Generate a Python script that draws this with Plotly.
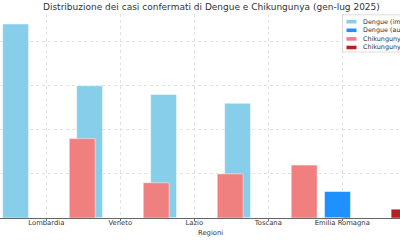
import plotly.graph_objects as go

# ---- data ----
regions = ["Lombardia", "Veneto", "Lazio", "Toscana", "Emilia Romagna"]
dengue_imp = [22, 15, 14, 13, 0]
dengue_auto = [0, 0, 0, 0, 3]
chik_imp = [9, 4, 5, 6, 0]
chik_auto = [0, 0, 0, 0, 1]
series_names = ["Dengue (importati)", "Dengue (autoctoni)",
                "Chikungunya (importati)", "Chikungunya (autoctoni)"]
colors = ["#87CEEB", "#1E90FF", "#F08080", "#B22222"]
title = "Distribuzione dei casi confermati di Dengue e Chikungunya (gen-lug 2025)"
xlabel = "Regioni"

# ---- layout constants ----
W, H = 400, 240
MT, MB = 14, 22
BW = 0.35
offsets = [-0.59, -0.24, 0.31, 0.66]
FONT = "DejaVu Sans"

fig = go.Figure()
for vals, name, col, off in zip([dengue_imp, dengue_auto, chik_imp, chik_auto],
                                series_names, colors, offsets):
    fig.add_trace(go.Bar(
        x=regions, y=vals, name=name, width=BW, offset=off,
        marker=dict(color=col, line=dict(color="rgba(255,255,255,0.8)", width=0.6)),
        showlegend=False,
    ))

def px_x(p):
    return p / W

def px_y(p):
    return (H - MB - p) / (H - MT - MB)

shapes = []
annotations = []
# legend box
shapes.append(dict(type="rect", xref="paper", yref="paper",
                   x0=px_x(342.5), x1=px_x(420), y0=px_y(52), y1=px_y(14.8),
                   line=dict(color="#d4d4d4", width=0.8), fillcolor="rgba(255,255,255,0.85)",
                   layer="above"))
ys = [21.7, 30.3, 38.9, 47.5]
for name, col, yy in zip(series_names, colors, ys):
    shapes.append(dict(type="rect", xref="paper", yref="paper",
                       x0=px_x(346.5), x1=px_x(356.5), y0=px_y(yy + 1.8), y1=px_y(yy - 1.8),
                       line=dict(width=0), fillcolor=col, layer="above"))
    annotations.append(dict(xref="paper", yref="paper", x=px_x(360.5), y=px_y(yy),
                            xanchor="left", yanchor="middle", showarrow=False,
                            text=name, font=dict(family=FONT, size=6.4, color="#333")))

annotations.append(dict(xref="paper", yref="paper", x=px_x(211), y=px_y(7.5),
                        xanchor="center", yanchor="middle", showarrow=False,
                        text=title, font=dict(family=FONT, size=9, color="#333")))
annotations.append(dict(xref="paper", yref="paper", x=px_x(210), y=px_y(232.5),
                        xanchor="center", yanchor="middle", showarrow=False,
                        text=xlabel, font=dict(family=FONT, size=6.8, color="#333")))

fig.update_layout(
    width=W, height=H,
    margin=dict(l=0, r=0, t=MT, b=MB, pad=0),
    plot_bgcolor="white", paper_bgcolor="white",
    barmode="overlay",
    shapes=shapes, annotations=annotations,
    font=dict(family=FONT, size=6.8, color="#333"),
    xaxis=dict(type="category", range=[-0.626, 4.78], showgrid=True,
               gridcolor="#e2e2e2", griddash="dot", gridwidth=0.8,
               showline=True, linecolor="#666", linewidth=1,
               ticks="outside", ticklen=2, tickcolor="#666", tickwidth=0.8,
               ticklabelstandoff=-4,
               tickfont=dict(family=FONT, size=6.8, color="#333"), zeroline=False),
    yaxis=dict(range=[0, 23.13], dtick=5, showgrid=True, gridcolor="#e2e2e2",
               griddash="dot", gridwidth=0.8, showticklabels=False, zeroline=False,
               showline=False),
)

fig.write_html("out.html")
